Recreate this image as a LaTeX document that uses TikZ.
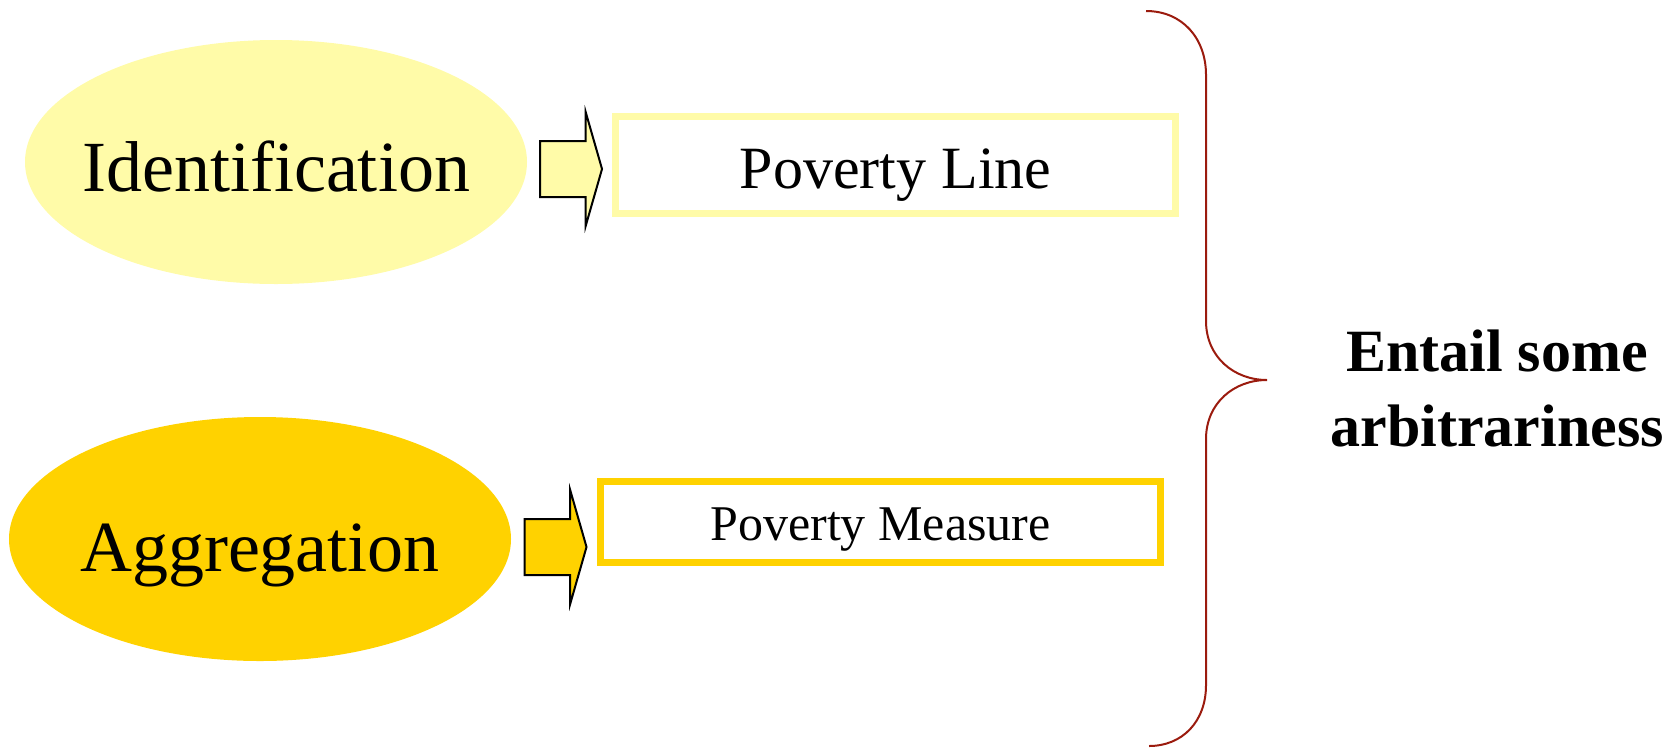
\documentclass[tikz,border=0pt]{standalone}
\usepackage{xcolor}
\definecolor{paleyel}{HTML}{FFFBA8}
\definecolor{goldyel}{HTML}{FFD200}
\definecolor{bracered}{HTML}{9B1B0E}
\usepackage{fontspec}
\setmainfont{Liberation Serif}
\usepackage{tikz}
\usetikzlibrary{shapes.geometric,shapes.arrows,positioning}

\begin{document}
\begin{tikzpicture}[
  x=0.5pt, y=-0.5pt, %pixel grid
  stage/.style={ellipse, inner sep=0pt, minimum width=251pt, minimum height=122pt},
  stagetext/.style={inner sep=0pt, font=\fontsize{36}{40}\selectfont},
  blockarrow/.style={single arrow, draw=black, line width=1pt,
    inner xsep=0pt, inner ysep=13.5pt,
    minimum height=31pt, minimum width=56pt,
    single arrow head extend=14.5pt, single arrow head indent=0pt,
    single arrow tip angle=148},
  choice/.style={rectangle, line width=3.8pt, fill=white, minimum width=280pt, inner sep=0pt}
  ]
  \useasboundingbox (0,0) rectangle (1679,750);

  % the two steps
  \node [stage, fill=paleyel] (ident) at (276,162) {};
  \node [stagetext, yshift=-2pt] (identtxt) at (ident) {Identification};
  \node [stage, fill=goldyel] (aggr) at (260,539) {};
  \node [stagetext, yshift=-8pt] (aggrtxt) at (aggr) {Aggregation};

  \node [blockarrow, fill=paleyel] (arrident) at (567,169) {};
  \node [blockarrow, fill=goldyel] (arraggr) at (551.5,547) {};

  \node [choice, draw=paleyel, minimum height=48.5pt] (line) at (895.5,165) {};
  \node [font=\fontsize{30}{34}\selectfont, yshift=-5pt] (linetxt) at (line) {Poverty Line};
  \node [choice, draw=goldyel, minimum height=40.5pt] (measure) at (880.5,522) {};
  \node [font=\fontsize{25}{30}\selectfont, yshift=-4pt] (measuretxt) at (measure) {Poverty Measure};

  % brace
  \coordinate (btop) at (1146,11);
  \coordinate (btip) at (1267,380);
  \coordinate (bbot) at (1149,746);
  \draw [bracered, line width=1pt]
    (btop) .. controls (1182,11) and (1206,38) .. (1206,75)
    -- (1206,321) .. controls (1206,357) and (1234,380) .. (btip)
    .. controls (1234,380) and (1206,403) .. (1206,439)
    -- (1206,685) .. controls (1206,722) and (1182,746) .. (bbot);

  \node [align=center, font=\bfseries\fontsize{30}{37.5}\selectfont] (entail)
    at (1497,388) {Entail some\\arbitrariness};

\end{tikzpicture}
\end{document}
